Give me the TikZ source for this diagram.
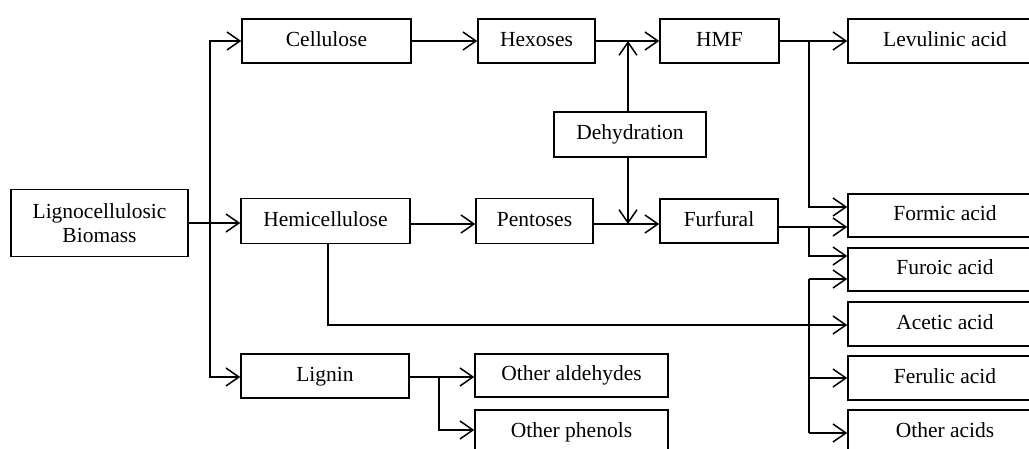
\documentclass[tikz,border=0pt]{standalone}
\usepackage{fontspec}
\setmainfont{Liberation Serif}
\usetikzlibrary{arrows.meta}
\begin{document}
\begin{tikzpicture}[x=1pt,y=-1pt,
  box/.style={draw, line width=1.5pt, inner sep=0pt, font=\fontsize{21.5}{24}\selectfont, text height=14.5pt, text depth=4pt},
  arr/.style={line width=1.5pt, -{Straight Barb[length=13pt,width=18pt]}},
  ln/.style={line width=1.5pt}]
\useasboundingbox (0,0) rectangle (1029,449);
\clip (0,0) rectangle (1029,449);
\fill[white] (0,0) rectangle (1029,449);
% boxes
\node[box, minimum width=177pt, minimum height=67pt, align=center, text height=, text depth=] (bio) at (99.5,223) {Lignocellulosic\\[-0.5pt]Biomass};
\node[box, minimum width=169pt, minimum height=44pt] (cell) at (326.5,41) {Cellulose};
\node[box, minimum width=117pt, minimum height=44pt] (hex) at (536.5,41) {Hexoses};
\node[box, minimum width=119pt, minimum height=44pt] (hmf) at (719.5,41) {HMF};
\node[box, minimum width=194pt, minimum height=44pt] (lev) at (945,41) {Levulinic acid};
\node[box, minimum width=152pt, minimum height=45pt] (dehy) at (630,134.5) {Dehydration};
\node[box, minimum width=169pt, minimum height=45pt] (hemi) at (325.5,221) {Hemicellulose};
\node[box, minimum width=117pt, minimum height=45pt] (pent) at (534.5,221) {Pentoses};
\node[box, minimum width=118pt, minimum height=44pt] (furf) at (719,221) {Furfural};
\node[box, minimum width=194pt, minimum height=43pt] (formic) at (945,215.5) {Formic acid};
\node[box, minimum width=194pt, minimum height=43pt] (furoic) at (945,269.5) {Furoic acid};
\node[box, minimum width=194pt, minimum height=44pt] (acetic) at (945,324) {Acetic acid};
\node[box, minimum width=194pt, minimum height=44pt] (ferulic) at (945,378) {Ferulic acid};
\node[box, minimum width=194pt, minimum height=44pt] (oacids) at (945,432) {Other acids};
\node[box, minimum width=168pt, minimum height=44pt] (lignin) at (325,376) {Lignin};
\node[box, minimum width=193pt, minimum height=43pt] (oald) at (571.5,375.5) {Other aldehydes};
\node[box, minimum width=193pt, minimum height=44pt] (ophen) at (571.5,432) {Other phenols};
% junction coordinates
\coordinate (j1) at (210,223);
\coordinate (jd1) at (628,41);
\coordinate (jd2) at (628,224);
\coordinate (jh) at (809,41);
\coordinate (jf) at (809,227);
\coordinate (jv) at (809,279);
\coordinate (hs) at (328,243);
\coordinate (jhe) at (328,325);
\coordinate (jl) at (439,377);
% connectors
\draw[arr] (bio.east |- j1) -- (hemi.west |- j1);
\draw[arr] (j1) |- (cell.west);
\draw[arr] (j1) |- (lignin.west |- jl);
\draw[arr] (cell.east) -- (hex.west);
\draw[arr] (hex.east) -- (hmf.west);
\draw[arr] (dehy.north -| jd1) -- (jd1);
\draw[arr] (dehy.south -| jd2) -- (jd2);
\draw[arr] (hemi.east |- 0,224) -- (pent.west |- 0,224);
\draw[arr] (pent.east |- jd2) -- (furf.west |- jd2);
\draw[arr] (hmf.east) -- (lev.west);
\draw[arr] (jh) |- (formic.west |- 0,207);
\draw[arr] (furf.east |- jf) -- (formic.west |- jf);
\draw[arr] (jf) |- (furoic.west |- 0,256);
\draw[arr] (hs) |- (acetic.west |- jhe);
\draw[arr] (jv) -- (furoic.west |- jv);
\draw[ln] (jv) -- (809,433);
\draw[arr] (809,378) -- (ferulic.west |- 0,378);
\draw[arr] (809,433) -- (oacids.west |- 0,433);
\draw[arr] (lignin.east |- jl) -- (oald.west |- jl);
\draw[arr] (jl) |- (ophen.west |- 0,430);
\end{tikzpicture}
\end{document}
